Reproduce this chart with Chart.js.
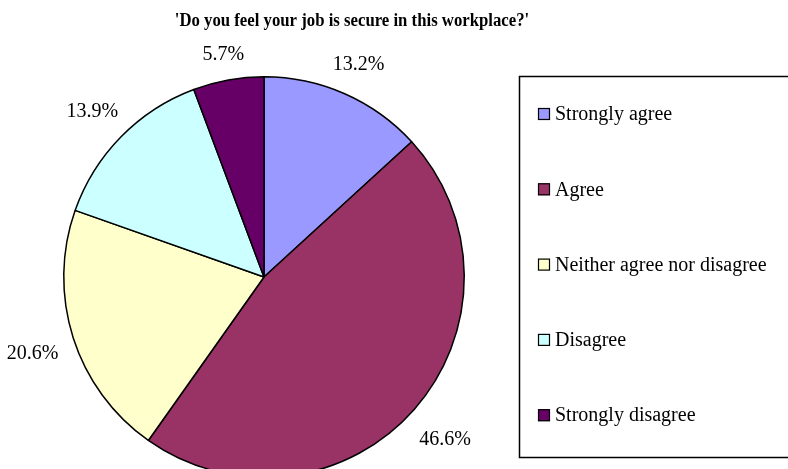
<!DOCTYPE html>
<html>
<head>
<meta charset="utf-8">
<script src="https://cdn.jsdelivr.net/npm/chart.js@4"></script>
<style>
  html, body { margin: 0; padding: 0; background: #fff; overflow: hidden; }
  #wrap { position: relative; width: 788px; height: 469px; overflow: hidden; }
</style>
</head>
<body>
<div id="wrap"><canvas id="myChart" width="788" height="500"></canvas></div>
<script>
const answers = ["Strongly agree", "Agree", "Neither agree nor disagree", "Disagree", "Strongly disagree"];
const percents = [13.2, 46.6, 20.6, 13.9, 5.7];
const colors = ["#9999FF", "#993366", "#FFFFCC", "#CCFFFF", "#660066"];
const chartTitle = "'Do you feel your job is secure in this workplace?'";

const serif = "'Liberation Serif', 'Times New Roman', serif";

// percent labels outside the slices, title and boxed legend
const extras = {
  id: "extras",
  afterDraw(chart) {
    const c = chart.ctx;
    c.save();
    c.fillStyle = "#000";
    c.textAlign = "center";
    c.textBaseline = "middle";

    // title is a bit condensed in the original
    c.save();
    c.translate(352, 21);
    c.scale(0.93, 1);
    c.font = "bold 18px " + serif;
    c.fillText(chartTitle, 0, 0);
    c.restore();

    c.font = "20px " + serif;
    chart.getDatasetMeta(0).data.forEach((arc, i) => {
      const mid = (arc.startAngle + arc.endAngle) / 2;
      const txt = percents[i].toFixed(1) + "%";
      const w = c.measureText(txt).width;
      const cos = Math.cos(mid), sin = Math.sin(mid);
      const d = arc.outerRadius + 15 + Math.abs(cos) * w / 2 + Math.abs(sin) * 10;
      c.fillText(txt, arc.x + cos * d, arc.y + sin * d + 3);
    });

    // legend box
    c.strokeStyle = "#000";
    c.lineWidth = 1.5;
    c.strokeRect(519.5, 76.5, 300, 381);
    c.textAlign = "left";
    answers.forEach((a, i) => {
      const y = 114 + i * 75.3;
      c.fillStyle = colors[i];
      c.fillRect(538, y - 6, 12, 12);
      c.lineWidth = 1.2;
      c.strokeRect(538.5, y - 5.5, 11, 11);
      c.fillStyle = "#000";
      c.fillText(a, 555, y + 1);
    });
    c.restore();
  }
};

new Chart(document.getElementById("myChart"), {
  type: "pie",
  data: {
    labels: answers,
    datasets: [
      {
        data: percents,
        backgroundColor: colors,
        borderColor: "#000",
        borderWidth: 1.5,
      },
    ],
  },
  options: {
    responsive: false,
    animation: false,
    layout: {
      padding: { left: 63, top: 76, right: 323, bottom: 22 },
    },
    plugins: {
      legend: { display: false },
      tooltip: { enabled: false },
    },
  },
  plugins: [extras],
});
</script>
</body>
</html>
